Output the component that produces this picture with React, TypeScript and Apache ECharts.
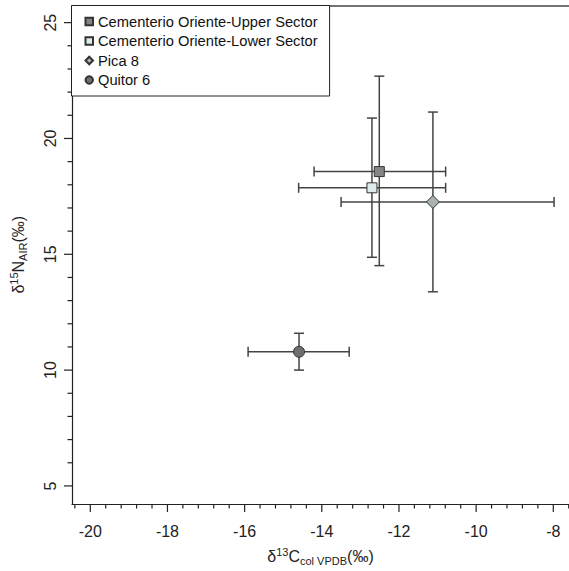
import React, { useEffect, useRef } from "react";
import * as echarts from "echarts";

const seriesNames = [
  "Cementerio Oriente-Upper Sector",
  "Cementerio Oriente-Lower Sector",
  "Pica 8",
  "Quitor 6",
];
const meanC = [-12.51, -12.7, -11.12, -14.59];
const meanN = [18.57, 17.87, 17.26, 10.79];
const cLow = [-14.2, -14.6, -13.5, -15.91];
const cHigh = [-10.79, -10.79, -7.98, -13.29];
const nLow = [14.51, 14.87, 13.38, 10.0];
const nHigh = [22.69, 20.88, 21.14, 11.59];

const xMajorTicks = [-20, -18, -16, -14, -12, -10, -8];
const xMinorTicks = [
  -20.4, -19.6, -19.2, -18.8, -18.4, -17.6, -17.2, -16.8, -16.4, -15.6, -15.2,
  -14.8, -14.4, -13.6, -13.2, -12.8, -12.4, -11.6, -11.2, -10.8, -10.4, -9.6,
  -9.2, -8.8, -8.4, -7.6,
];
const yMajorTicks = [5, 10, 15, 20, 25];
const yMinorTicks = [6, 7, 8, 9, 11, 12, 13, 14, 16, 17, 18, 19, 21, 22, 23, 24];

const symbols = ["rect", "rect", "diamond", "circle"];
const symbolSizes = [10, 10, 13, 11];
const fills = ["#858585", "#dcecec", "#a8b4b4", "#6e6e6e"];

const FONT = "'Liberation Sans', Arial, sans-serif";
const X_MIN = -20.474;
const X_MAX = -7.593;
const Y_MIN = 4.22;
const Y_MAX = 25.74;
const AXIS_COLOR = "#222";

export default function App() {
  const ref = useRef<HTMLDivElement>(null);
  useEffect(() => {
    if (!ref.current) return;
    const chart = echarts.init(ref.current, undefined, { renderer: "svg" });

    const errData = meanC.map((c, i) => [c, meanN[i], cLow[i], cHigh[i], nLow[i], nHigh[i]]);

    const scatterSeries = seriesNames.map((name, i) => ({
      name,
      type: "scatter",
      symbol: symbols[i],
      symbolSize: symbolSizes[i],
      z: 5,
      itemStyle: { color: fills[i], borderColor: "#333", borderWidth: 1, opacity: 1 },
      data: [[meanC[i], meanN[i]]],
    }));

    const tickStyle = { stroke: AXIS_COLOR, lineWidth: 1.2 };
    const xTickData = [
      ...xMajorTicks.map((v) => [v, Y_MIN, 8]),
      ...xMinorTicks.map((v) => [v, Y_MIN, 4.5]),
    ];
    const yTickData = [
      ...yMajorTicks.map((v) => [X_MIN, v, 8]),
      ...yMinorTicks.map((v) => [X_MIN, v, 4.5]),
    ];

    const richName = {
      d: { fontSize: 16, fontFamily: FONT, color: "#222", lineHeight: 20, verticalAlign: "middle" },
      n: { fontSize: 16, fontFamily: FONT, color: "#222", lineHeight: 20, verticalAlign: "middle" },
      sup: { fontSize: 11, fontFamily: FONT, color: "#222", lineHeight: 11, verticalAlign: "top" },
      sub: { fontSize: 11, fontFamily: FONT, color: "#222", lineHeight: 11, verticalAlign: "bottom" },
    };

    const option: any = {
      animation: false,
      backgroundColor: "#fff",
      grid: { left: 71.7, top: 5.5, right: 0, bottom: 65.3, containLabel: false },
      legend: {
        orient: "vertical",
        left: 71.5,
        top: 5.5,
        padding: [8.5, 12, 8.5, 13],
        itemGap: 4.5,
        itemWidth: 7.5,
        itemHeight: 7.5,
        backgroundColor: "#fff",
        borderColor: "#222",
        borderWidth: 1,
        borderRadius: 0,
        textStyle: { fontSize: 14.7, lineHeight: 15, color: "#111", fontFamily: FONT },
        data: seriesNames.map((n, i) => ({ name: n, icon: symbols[i] })),
        z: 10,
      },
      xAxis: [
        {
          type: "value",
          position: "bottom",
          min: X_MIN,
          max: X_MAX,
          axisLine: { show: true, onZero: false, lineStyle: { color: AXIS_COLOR, width: 1.2 } },
          axisTick: { show: false },
          axisLabel: {
            show: true,
            customValues: xMajorTicks,
            margin: 19,
            fontSize: 16,
            fontFamily: FONT,
            color: "#222",
            formatter: (v: number) => (xMajorTicks.includes(Math.round(v * 1000) / 1000) ? String(v) : ""),
          },
          splitLine: { show: false },
          name: "{d|δ}{sup|13}{n|C}{sub|col VPDB}{d|(‰)}",
          nameLocation: "middle",
          nameGap: 42,
          nameTextStyle: { rich: richName },
        },
        {
          type: "value",
          position: "top",
          min: X_MIN,
          max: X_MAX,
          axisLine: { show: true, onZero: false, lineStyle: { color: "#444", width: 1.6 } },
          axisTick: { show: false },
          axisLabel: { show: false },
          splitLine: { show: false },
        },
      ],
      yAxis: [
        {
          type: "value",
          position: "left",
          min: Y_MIN,
          max: Y_MAX,
          axisLine: { show: true, onZero: false, lineStyle: { color: AXIS_COLOR, width: 1.2 } },
          axisTick: { show: false },
          axisLabel: {
            show: true,
            customValues: yMajorTicks,
            rotate: 90,
            margin: 14,
            fontSize: 16,
            fontFamily: FONT,
            color: "#222",
            formatter: (v: number) => (yMajorTicks.includes(Math.round(v * 1000) / 1000) ? String(v) : ""),
          },
          splitLine: { show: false },
          name: "{d|δ}{sup|15}{n|N}{sub|AIR}{d|(‰)}",
          nameLocation: "middle",
          nameGap: 44,
          nameTextStyle: { rich: richName },
        },
      ],
      series: [
        {
          name: "errors",
          type: "custom",
          silent: true,
          z: 2,
          encode: { x: [0, 2, 3], y: [1, 4, 5] },
          data: errData,
          renderItem: (params: any, api: any) => {
            const xm = api.value(0);
            const ym = api.value(1);
            const pL = api.coord([api.value(2), ym]);
            const pR = api.coord([api.value(3), ym]);
            const pB = api.coord([xm, api.value(4)]);
            const pT = api.coord([xm, api.value(5)]);
            const cap = 5;
            const style = { stroke: "#444", lineWidth: 1.5 };
            const ln = (x1: number, y1: number, x2: number, y2: number) => ({
              type: "line",
              shape: { x1, y1, x2, y2 },
              style,
            });
            return {
              type: "group",
              children: [
                ln(pL[0], pL[1], pR[0], pR[1]),
                ln(pL[0], pL[1] - cap, pL[0], pL[1] + cap),
                ln(pR[0], pR[1] - cap, pR[0], pR[1] + cap),
                ln(pB[0], pB[1], pT[0], pT[1]),
                ln(pT[0] - cap, pT[1], pT[0] + cap, pT[1]),
                ln(pB[0] - cap, pB[1], pB[0] + cap, pB[1]),
              ],
            };
          },
        },
        {
          name: "xTicks",
          type: "custom",
          silent: true,
          clip: false,
          z: 3,
          encode: { x: 0, y: 1 },
          data: xTickData,
          renderItem: (params: any, api: any) => {
            const p = api.coord([api.value(0), api.value(1)]);
            const len = api.value(2);
            return {
              type: "line",
              shape: { x1: p[0], y1: p[1], x2: p[0], y2: p[1] + len },
              style: tickStyle,
            };
          },
        },
        {
          name: "yTicks",
          type: "custom",
          silent: true,
          clip: false,
          z: 3,
          encode: { x: 0, y: 1 },
          data: yTickData,
          renderItem: (params: any, api: any) => {
            const p = api.coord([api.value(0), api.value(1)]);
            const len = api.value(2);
            return {
              type: "line",
              shape: { x1: p[0] - len, y1: p[1], x2: p[0], y2: p[1] },
              style: tickStyle,
            };
          },
        },
        ...scatterSeries,
      ],
    };

    chart.setOption(option);
    return () => chart.dispose();
  }, []);

  return (
    <div
      ref={ref}
      style={{ position: "fixed", left: 0, top: 0, width: 569, height: 571, background: "#fff" }}
    />
  );
}
